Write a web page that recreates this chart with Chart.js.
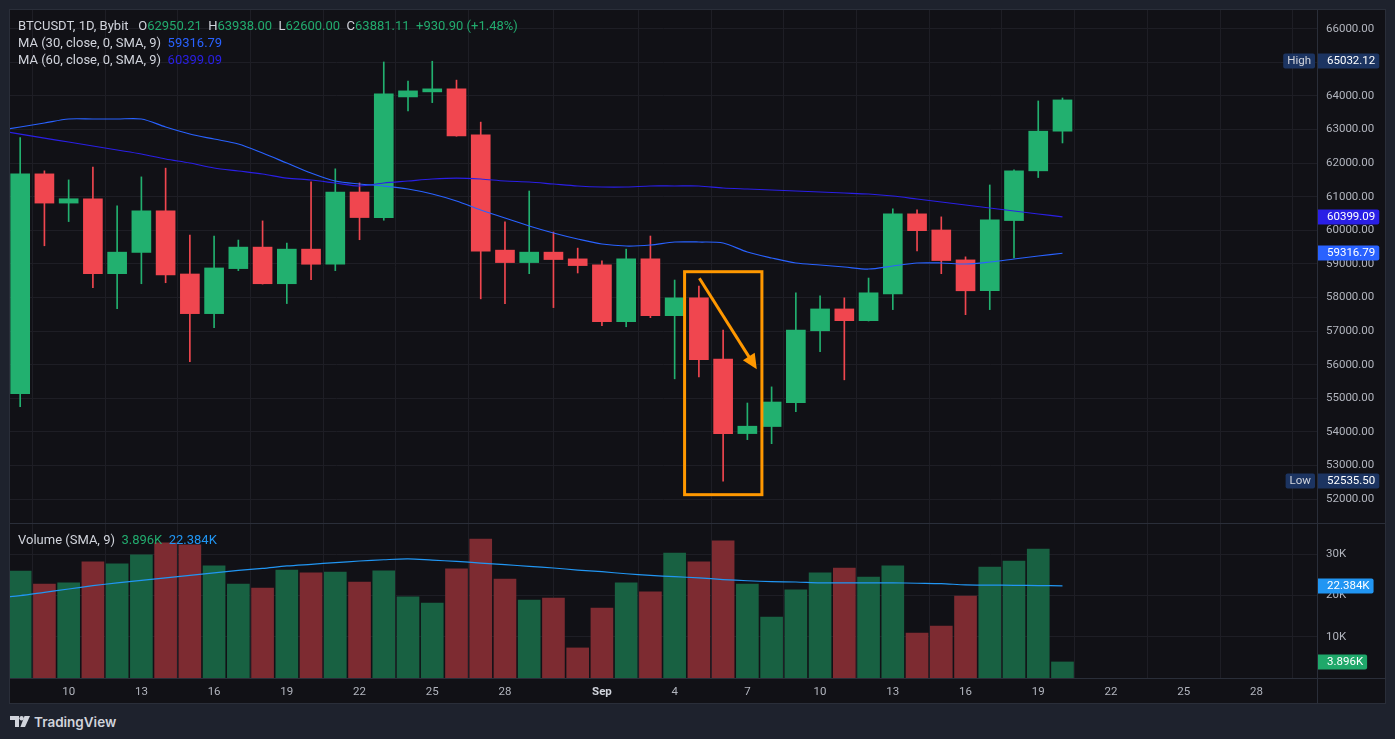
<!DOCTYPE html>
<html>
<head>
<meta charset="utf-8">
<script src="https://cdn.jsdelivr.net/npm/chart.js@4.4.1/dist/chart.umd.min.js"></script>
<style>
  html, body { margin:0; padding:0; background:#1e222d; width:1395px; height:739px; overflow:hidden; }
  body { font-family: Roboto, "Noto Sans", sans-serif; }
  #frame { position:absolute; left:10px; top:10px; width:1375px; height:693px; background:#111116; outline:1px solid #2a2e39; }
  #pricePane { position:absolute; left:0; top:0; }
  #volPane { position:absolute; left:0; top:513px; }
  .hline { position:absolute; left:0; width:1375px; height:1px; background:#2a2e39; }
  .vline { position:absolute; top:0; width:1px; height:693px; background:#2a2e39; }
  .legend { position:absolute; left:8px; font-size:13px; line-height:17px; color:#d1d4dc; white-space:pre; }
  .legend b { font-weight:normal; }
  .up { color:#22ab6e; }
  #brand { position:absolute; left:10px; top:713px; height:18px; display:flex; align-items:center; color:#d1d4dc; font-family:Inter, Roboto, sans-serif; font-weight:600; font-size:13.5px; }
  #brand svg { margin-right:4px; }
</style>
</head>
<body>
<div id="frame">
  <canvas id="pricePane" width="1375" height="513"></canvas>
  <canvas id="volPane" width="1375" height="180"></canvas>
  <div class="hline" style="top:513px"></div>
  <div class="hline" style="top:668px"></div>
  <div class="vline" style="left:1307px"></div>
  <div class="legend" id="lg1" style="top:7px"></div>
  <div class="legend" id="lg2" style="top:24px"></div>
  <div class="legend" id="lg3" style="top:41px"></div>
  <div class="legend" id="lg4" style="top:521px"></div>
</div>
<div id="brand">
  <svg width="20" height="14" viewBox="0 0 20 14"><path d="M0 1h9v11H5V5H0z" fill="#d1d4dc"/><circle cx="11.6" cy="3.2" r="2.2" fill="#d1d4dc"/><path d="M14.5 1H20l-5 11h-4.6z" fill="#d1d4dc"/></svg>TradingView
</div>
<script>
// daily candles, Aug 8 .. Sep 20
const dates = ['Aug 8','Aug 9','Aug 10','Aug 11','Aug 12','Aug 13','Aug 14','Aug 15','Aug 16','Aug 17','Aug 18',
  'Aug 19','Aug 20','Aug 21','Aug 22','Aug 23','Aug 24','Aug 25','Aug 26','Aug 27','Aug 28','Aug 29','Aug 30','Aug 31',
  'Sep 1','Sep 2','Sep 3','Sep 4','Sep 5','Sep 6','Sep 7','Sep 8','Sep 9','Sep 10','Sep 11','Sep 12','Sep 13','Sep 14',
  'Sep 15','Sep 16','Sep 17','Sep 18','Sep 19','Sep 20'];

const open  = [55140,61680,60810,60940,58710,59340,60580,58700,57520,58860,59500,58410,59440,58990,61140,60380,63970,64120,
  64210,62840,59410,59040,59350,59150,58970,57280,59150,57460,57990,56170,53950,54160,54870,57010,57660,57310,58110,60490,
  60010,59120,58200,60290,61770,62950.21];
const high  = [62760,61770,61500,61880,60730,61590,61850,59860,59830,59710,60280,59620,61440,61830,61410,65010,64440,65032.12,
  64470,63220,60250,61170,59950,59470,59090,59440,59830,58520,58340,57030,54860,55340,58140,58050,57990,58580,60640,60610,
  60400,59210,61350,61800,63850,63938];
const low   = [54750,59540,60260,58290,57670,58410,58440,56090,57100,58800,58400,57820,58530,58800,59720,60300,63550,63800,
  62800,57960,57820,58710,57700,58730,57160,57130,57400,55580,55640,52535.5,53770,53650,54600,56390,55550,57300,57640,59390,
  58710,57490,57640,59180,61570,62600];
const close = [61680,60810,60940,58710,59350,60580,58670,57520,58880,59500,58410,59440,58990,61140,60380,64060,64150,64210,
  62810,59380,59040,59350,59130,58950,57280,59150,57460,57990,56150,53950,54170,54890,57030,57660,57310,58140,60490,59990,
  59100,58200,60310,61770,62950.21,63881.11];
const volume = [25970,22800,23100,28200,27700,29900,32800,32300,27200,22800,21800,26200,25500,25700,23300,26000,19700,18200,
  26500,33700,24000,18900,19400,7300,17000,23100,20900,30300,28200,33300,22800,14800,21400,25500,26700,24500,27200,10900,
  12600,19900,26900,28400,31300,3896];

// moving averages start one day earlier (Aug 7) so the lines reach the left edge
const ma30 = [62955,63075,63194,63313,63313,63313,63313,63075,62866,62717,62569,62301,62003,61705,61467,61378,61318,61229,
  61080,60872,60604,60366,60128,59920,59741,59592,59533,59563,59652,59652,59622,59354,59176,59027,58967,58908,58848,58938,
  59027,59027,58997,59057,59146,59235,59316.79];
const ma60 = [62990,62863,62744,62628,62509,62390,62271,62122,62003,61854,61765,61676,61556,61497,61408,61319,61408,61467,
  61527,61556,61527,61467,61438,61378,61319,61289,61289,61319,61319,61319,61259,61229,61200,61170,61140,61110,61080,61021,
  60932,60842,60753,60664,60575,60486,60399.09];
const volMa = [19400,20000,20800,21600,22400,23100,23700,24300,24900,25500,26100,26600,27200,27600,28000,28400,28700,28900,
  28600,28300,27900,27500,27100,26700,26200,25800,25300,24900,24600,24300,23900,23600,23400,23300,23100,23100,23100,23100,
  23000,22900,22600,22550,22500,22430,22384];

const tickPos    = [2,5,8,11,14,17,20,24,27,30,33,36,39,42,45,48,51];
const tickLabels = ['10','13','16','19','22','25','28','Sep','4','7','10','13','16','19','22','25','28'];
const priceTicks = [52000,53000,54000,55000,56000,57000,58000,59000,60000,61000,62000,63000,64000,65000,66000];
const volTicks   = [10000,20000,30000];

const UP = '#22b06f', DOWN = '#f0464f';
const VUP = '#186142', VDOWN = '#7d2b31';
const GRID = '#1e1e25';
const AXIS_TXT = '#b2b5be';
const FONT = 'Roboto, "Noto Sans", sans-serif';

const n = close.length;
const last = n - 1;
const isUp = close.map((c, i) => c >= open[i]);
const fmtK = v => (v / 1000).toFixed(3) + 'K';

// legend lines
const chg = close[last] - close[last - 1];
const g = (k, v) => `  ${k}<b class="up">${v}</b>`;
document.getElementById('lg1').innerHTML = 'BTCUSDT, 1D, Bybit ' + g('O', open[last].toFixed(2)) + g('H', high[last].toFixed(2)) +
  g('L', low[last].toFixed(2)) + g('C', close[last].toFixed(2)) +
  `  <span class="up">+${chg.toFixed(2)} (+${(chg / close[last - 1] * 100).toFixed(2)}%)</span>`;
document.getElementById('lg2').innerHTML = `MA (30, close, 0, SMA, 9)  <span style="color:#2962ff">${ma30[ma30.length - 1].toFixed(2)}</span>`;
document.getElementById('lg3').innerHTML = `MA (60, close, 0, SMA, 9)  <span style="color:#2a1fe6">${ma60[ma60.length - 1].toFixed(2)}</span>`;
document.getElementById('lg4').innerHTML = `Volume (SMA, 9)  <span class="up">${fmtK(volume[last])}</span>  <span style="color:#2196f3">${fmtK(volMa[volMa.length - 1])}</span>`;

function xAxis(showLabels) {
  return {
    type: 'linear', min: -0.42, max: 53.5, offset: false,
    grid: { color: GRID, drawTicks: false },
    border: { display: false },
    afterBuildTicks: s => { s.ticks = tickPos.map(v => ({ value: v })); },
    ticks: {
      display: showLabels, padding: 7, autoSkip: false, maxRotation: 0,
      callback: (v, i) => tickLabels[i],
      color: c => tickLabels[c.index] === 'Sep' ? '#d1d4dc' : AXIS_TXT,
      font: c => ({ family: FONT, size: 11.5, weight: tickLabels[c.index] === 'Sep' ? 'bold' : 'normal' })
    },
    afterFit: s => { s.height = showLabels ? 25 : 0; s.paddingLeft = 0; s.paddingRight = 0; }
  };
}

function yAxis(min, max, ticks, fmt) {
  return {
    type: 'linear', position: 'right', min: min, max: max,
    grid: { color: GRID, drawTicks: false },
    border: { display: false },
    afterBuildTicks: s => { s.ticks = ticks.map(v => ({ value: v })); },
    ticks: { padding: 9, color: AXIS_TXT, font: { family: FONT, size: 11.5 }, callback: fmt },
    afterFit: s => { s.width = 68; s.paddingTop = 0; s.paddingBottom = 0; }
  };
}

// price tags drawn in the axis column
const tagPlugin = {
  id: 'tags',
  afterDraw(chart, args, opts) {
    const ctx = chart.ctx, ys = chart.scales.y, area = chart.chartArea;
    ctx.save();
    ctx.font = '11.5px ' + FONT;
    ctx.textBaseline = 'middle';
    (opts.items || []).forEach(t => {
      const y = Math.round(ys.getPixelForValue(t.value));
      const w = ctx.measureText(t.text).width;
      const x0 = area.right + 1;
      ctx.fillStyle = t.bg;
      ctx.beginPath();
      ctx.roundRect(x0, y - 7.5, w + 13, 15, [0, 2, 2, 0]);
      ctx.fill();
      ctx.fillStyle = '#ffffff';
      ctx.textAlign = 'left';
      ctx.fillText(t.text, x0 + 9, y + 0.5);
      if (t.side) {
        const sw = ctx.measureText(t.side).width + 8;
        ctx.fillStyle = t.bg;
        ctx.beginPath();
        ctx.roundRect(area.right - 2 - sw, y - 7.5, sw, 15, 2);
        ctx.fill();
        ctx.fillStyle = '#d1d4dc';
        ctx.fillText(t.side, area.right - 2 - sw + 4, y + 0.5);
      }
    });
    ctx.restore();
  }
};

// orange box + arrow (day index / price)
const markBox = { x0: 27.41, x1: 30.6, top: 58768, bottom: 52132 };
const markArrow = { x0: 28.02, y0: 58572, x1: 30.39, y1: 55864 };
const markPlugin = {
  id: 'mark',
  afterDatasetsDraw(chart) {
    const ctx = chart.ctx, xs = chart.scales.x, ys = chart.scales.y;
    ctx.save();
    ctx.strokeStyle = '#ff9800';
    ctx.fillStyle = '#ff9800';
    ctx.lineWidth = 3;
    const l = xs.getPixelForValue(markBox.x0), r = xs.getPixelForValue(markBox.x1);
    const t = ys.getPixelForValue(markBox.top), b = ys.getPixelForValue(markBox.bottom);
    ctx.strokeRect(l, t, r - l, b - t);
    const ax = xs.getPixelForValue(markArrow.x0), ay = ys.getPixelForValue(markArrow.y0);
    const bx = xs.getPixelForValue(markArrow.x1), by = ys.getPixelForValue(markArrow.y1);
    const ang = Math.atan2(by - ay, bx - ax), hl = 15, hw = 7;
    ctx.beginPath();
    ctx.moveTo(ax, ay);
    ctx.lineTo(bx - Math.cos(ang) * hl * 0.8, by - Math.sin(ang) * hl * 0.8);
    ctx.stroke();
    ctx.beginPath();
    ctx.moveTo(bx, by);
    ctx.lineTo(bx - Math.cos(ang) * hl + Math.sin(ang) * hw, by - Math.sin(ang) * hl - Math.cos(ang) * hw);
    ctx.lineTo(bx - Math.cos(ang) * hl - Math.sin(ang) * hw, by - Math.sin(ang) * hl + Math.cos(ang) * hw);
    ctx.closePath();
    ctx.fill();
    ctx.restore();
  }
};

const common = {
  responsive: false, devicePixelRatio: 1, animation: false, events: [],
  layout: { padding: 0 },
  plugins: { legend: { display: false }, tooltip: { enabled: false } }
};

new Chart(document.getElementById('pricePane'), {
  type: 'bar',
  data: {
    datasets: [
      { type: 'line', data: ma30.map((v, i) => ({ x: i - 1, y: v })), borderColor: '#2962ff', borderWidth: 1.2,
        pointRadius: 0, tension: 0.3, order: 0 },
      { type: 'line', data: ma60.map((v, i) => ({ x: i - 1, y: v })), borderColor: '#2a1fe6', borderWidth: 1.2,
        pointRadius: 0, tension: 0.3, order: 0 },
      { data: open.map((o, i) => ({ x: i, y: [o, close[i]] })), backgroundColor: isUp.map(u => u ? UP : DOWN),
        barThickness: 19, grouped: false, minBarLength: 2, order: 1 },
      { data: low.map((l, i) => ({ x: i, y: [l, high[i]] })), backgroundColor: isUp.map(u => u ? UP : DOWN),
        barThickness: 1, grouped: false, order: 2 }
    ]
  },
  options: Object.assign({}, common, {
    scales: {
      x: xAxis(false),
      y: yAxis(51289, 66557, priceTicks, v => v.toFixed(2))
    },
    plugins: Object.assign({}, common.plugins, {
      tags: { items: [
        { value: Math.max(...high), text: Math.max(...high).toFixed(2), bg: '#1c3461', side: 'High' },
        { value: ma60[ma60.length - 1], text: ma60[ma60.length - 1].toFixed(2), bg: '#2a1fe6' },
        { value: ma30[ma30.length - 1], text: ma30[ma30.length - 1].toFixed(2), bg: '#2962ff' },
        { value: Math.min(...low), text: Math.min(...low).toFixed(2), bg: '#1c3461', side: 'Low' }
      ] }
    })
  }),
  plugins: [tagPlugin, markPlugin]
});

new Chart(document.getElementById('volPane'), {
  type: 'bar',
  data: {
    datasets: [
      { type: 'line', data: volMa.map((v, i) => ({ x: i - 1, y: v })), borderColor: '#2196f3', borderWidth: 1.2,
        pointRadius: 0, tension: 0.3, order: 0 },
      { data: volume.map((v, i) => ({ x: i, y: v })), backgroundColor: isUp.map(u => u ? VUP : VDOWN),
        barThickness: 22, grouped: false, order: 1 }
    ]
  },
  options: Object.assign({}, common, {
    scales: {
      x: xAxis(true),
      y: yAxis(0, 37621, volTicks, v => (v / 1000) + 'K')
    },
    plugins: Object.assign({}, common.plugins, {
      tags: { items: [
        { value: volMa[volMa.length - 1], text: fmtK(volMa[volMa.length - 1]), bg: '#2196f3' },
        { value: volume[last], text: fmtK(volume[last]), bg: '#1fa86a' }
      ] }
    })
  }),
  plugins: [tagPlugin]
});
</script>
</body>
</html>
